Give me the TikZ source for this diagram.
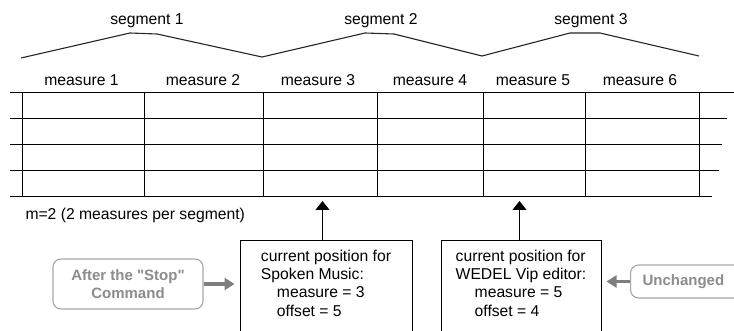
\documentclass[tikz,border=0pt]{standalone}
\usepackage{fontspec}
\setmainfont{Liberation Sans}[Ligatures=TeXOff]
\usetikzlibrary{arrows.meta, positioning}
\definecolor{cgrey}{HTML}{7F7F7F}
\definecolor{clight}{HTML}{A6A6A6}
\definecolor{ctext}{HTML}{8C8C8C}
\tikzset{
  every picture/.style={font=\fontsize{15.7}{18.3}\selectfont, line width=1pt, x=1pt, y=-1pt},
  staff/.style={draw=black, line width=1pt},
  bracket/.style={draw=black!85, line width=1.1pt, line join=round},
  mlabel/.style={anchor=base, inner sep=0pt},
  posbox/.style={draw=black, anchor=north west, align=left, inner xsep=0pt, inner ysep=9pt, line width=1pt},
  cmdbox/.style={draw=clight, rounded corners=8pt, text=ctext, font=\bfseries\fontsize{15}{18}\selectfont, align=center, line width=1.1pt},
  uparrow/.style={-{Triangle[width=14pt, length=9pt]}, draw=black, line width=1pt},
  grayarrow/.style={-{Triangle[width=12pt, length=10pt]}, draw=cgrey, line width=3.5pt, shorten >=5pt},
}

\begin{document}
\begin{tikzpicture}
  \fill[white] (0,0) rectangle (734,331);
  \useasboundingbox (0,0) rectangle (734,331);
  \clip (0,0) rectangle (734,331);

  \node[mlabel] (seg1) at (147,25) {segment 1};
  \node[mlabel] (seg2) at (381,25) {segment 2};
  \node[mlabel] (seg3) at (591,25) {segment 3};
  \draw[bracket] (21,58) -- (130,33) -- (157,34) -- (262,57) -- (365,33) -- (394,34)
    -- (482,56) -- (570,33) -- (600,33) -- (699,56);

  \node[mlabel] (m1) at (81.5,86) {measure 1};
  \node[mlabel] (m2) at (203,86) {measure 2};
  \node[mlabel] (m3) at (318,86) {measure 3};
  \node[mlabel] (m4) at (430,86) {measure 4};
  \node[mlabel] (m5) at (533,86) {measure 5};
  \node[mlabel] (m6) at (640,86) {measure 6};

  \draw[staff] (10,92.5) -- (734,92.5);
  \draw[staff] (10,118.5) -- (727,118.5);
  \draw[staff] (10,144.5) -- (722,144.5);
  \draw[staff] (10,170.5) -- (719,170.5);
  \draw[staff] (10,196.5) -- (712,196.5);
  \draw[staff] (22.5,92.5) -- (22.5,196.5);
  \draw[staff] (144.5,92.5) -- (144.5,196.5);
  \draw[staff] (263.5,92.5) -- (263.5,196.5);
  \draw[staff] (377.5,92.5) -- (377.5,196.5);
  \draw[staff] (483.5,92.5) -- (483.5,196.5);
  \draw[staff] (585.5,92.5) -- (585.5,196.5);
  \draw[staff] (699.5,92.5) -- (699.5,196.5);

  \node[anchor=base west, inner sep=0pt] (mnote) at (25,220) {m=2 (2 measures per segment)};

  \node[posbox, minimum width=172pt] (spk) at (239.5,240.5) {current position for\\Spoken Music:\\\hspace*{16pt}measure = 3\\\hspace*{16pt}offset = 5\\[40pt]~};
  \node[posbox, minimum width=160pt] (wed) at (440.5,240.5) {current position for\\WEDEL Vip editor:\\\hspace*{19pt}measure = 5\\\hspace*{19pt}offset = 4\\[40pt]~};
  \coordinate (pos3) at (322.5,201);
  \coordinate (pos5) at (519.5,201);
  \draw[uparrow] (spk.north -| pos3) -- (pos3);
  \draw[uparrow] (wed.north -| pos5) -- (pos5);

  \node[cmdbox, minimum width=150pt, minimum height=50pt] (stop) at (128,284) {After the "Stop"\\Command};
  \node[cmdbox, anchor=west, minimum height=33pt, text width=91pt, align=left, inner xsep=12pt] (unch) at (630,281.5) {Unchanged};
  \draw[grayarrow] (stop.east) -- (stop.east -| spk.west);
  \draw[grayarrow] (unch.west) -- (unch.west -| wed.east);
\end{tikzpicture}
\end{document}
